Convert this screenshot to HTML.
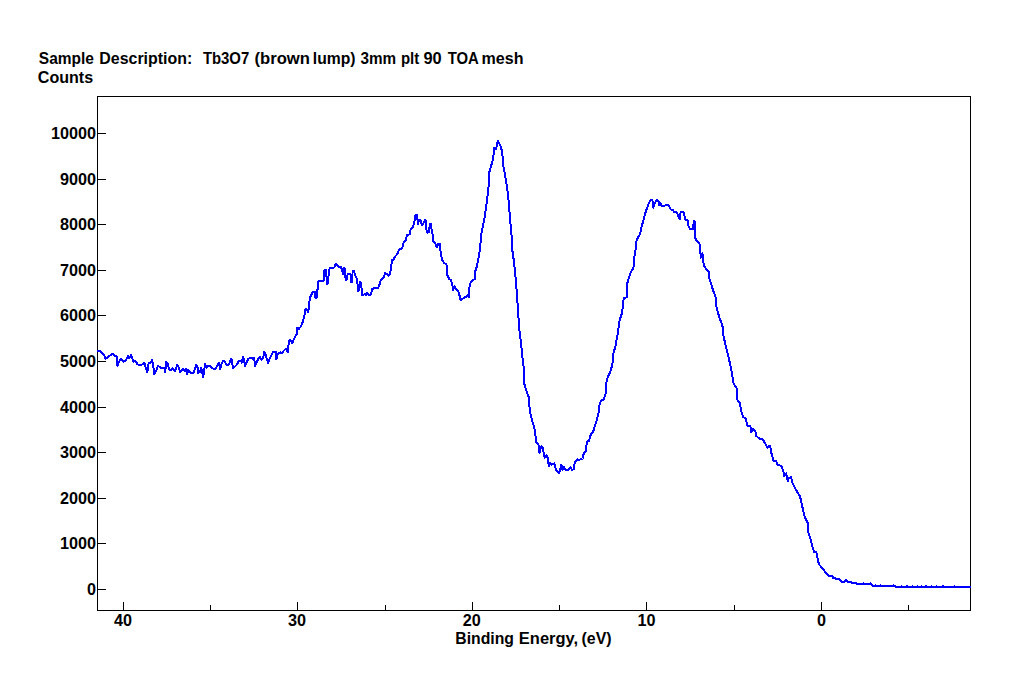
<!DOCTYPE html>
<html lang="en"><head><meta charset="utf-8"><title>Spectrum</title>
<style>html,body{margin:0;padding:0;background:#fff;overflow:hidden}svg{display:block}</style>
</head><body>
<svg width="1033" height="678" viewBox="0 0 1033 678">
<rect width="1033" height="678" fill="#fff"/>
<g shape-rendering="crispEdges" fill="#000">
<rect x="97" y="96" width="874" height="1"/>
<rect x="97" y="610" width="874" height="1"/>
<rect x="97" y="96" width="1" height="515"/>
<rect x="970" y="96" width="1" height="515"/>
<rect x="98" y="133" width="8" height="1"/>
<rect x="98" y="179" width="8" height="1"/>
<rect x="98" y="224" width="8" height="1"/>
<rect x="98" y="270" width="8" height="1"/>
<rect x="98" y="315" width="8" height="1"/>
<rect x="98" y="361" width="8" height="1"/>
<rect x="98" y="407" width="8" height="1"/>
<rect x="98" y="452" width="8" height="1"/>
<rect x="98" y="498" width="8" height="1"/>
<rect x="98" y="543" width="8" height="1"/>
<rect x="98" y="589" width="8" height="1"/>
<rect x="123" y="602" width="1" height="8"/>
<rect x="297" y="602" width="1" height="8"/>
<rect x="472" y="602" width="1" height="8"/>
<rect x="646" y="602" width="1" height="8"/>
<rect x="821" y="602" width="1" height="8"/>
<rect x="210" y="605" width="1" height="5"/>
<rect x="385" y="605" width="1" height="5"/>
<rect x="559" y="605" width="1" height="5"/>
<rect x="734" y="605" width="1" height="5"/>
<rect x="908" y="605" width="1" height="5"/>
</g>
<polyline points="96.8,351.0 100.3,350.7 102.3,353.4 104.2,354.8 105.2,358.7 107.1,357.7 109.5,355.8 112.4,353.6 114.4,355.5 116.5,355.8 117.1,360.2 117.5,366.0 118.7,362.6 120.7,358.7 123.1,361.6 126.0,360.4 127.9,355.8 129.4,358.2 131.0,354.8 132.3,358.2 133.2,361.6 135.7,361.1 137.6,364.5 142.4,364.5 144.4,362.9 145.8,367.9 147.3,372.3 148.0,367.9 148.7,363.1 150.7,362.9 151.9,359.7 153.1,364.0 154.1,374.2 156.0,371.3 157.9,365.8 160.8,367.7 164.2,367.9 165.2,372.3 166.2,361.6 167.4,363.1 169.1,369.4 171.0,370.0 172.4,368.4 174.9,371.3 177.3,364.5 178.4,366.5 180.2,371.8 182.6,368.9 184.5,370.8 186.0,368.9 187.0,374.2 188.4,369.8 190.8,372.8 193.4,372.8 194.8,368.9 196.3,364.8 197.6,367.9 198.2,372.8 199.7,372.3 201.1,367.9 202.1,371.8 203.1,377.1 204.0,371.8 205.0,363.8 206.5,367.9 207.9,365.8 209.8,366.0 212.7,368.4 215.7,368.9 217.6,365.0 219.0,363.1 220.2,368.9 221.5,364.0 223.4,360.7 224.8,361.6 226.3,364.5 229.2,364.5 230.2,360.4 231.4,358.7 232.4,364.0 233.1,367.9 235.5,366.0 237.4,364.0 238.4,361.3 240.8,360.7 241.8,362.6 243.0,356.8 244.0,358.7 245.0,366.0 246.6,362.1 248.1,359.2 250.5,357.7 252.4,358.7 254.1,357.7 255.1,366.0 256.8,362.1 258.2,359.2 259.7,356.8 261.2,359.7 263.1,358.2 264.1,351.9 265.3,353.4 266.5,358.2 268.2,363.1 269.4,359.2 271.3,355.3 273.3,351.7 275.7,351.9 276.4,359.2 277.6,354.4 280.0,352.4 282.0,352.9 284.9,349.5 286.3,349.0 286.8,350.1 287.7,352.3 288.7,343.5 289.7,339.8 290.9,340.5 292.4,343.5 293.8,339.1 295.6,335.8 296.8,334.6 297.1,327.6 299.0,328.7 300.9,326.5 302.7,322.1 304.2,316.9 305.6,308.8 307.1,310.3 308.3,312.5 309.0,305.1 310.0,297.0 311.4,295.0 312.6,291.9 314.7,291.9 315.6,298.4 316.8,297.7 317.1,290.2 318.0,289.6 318.1,281.4 319.5,280.8 323.6,280.6 323.9,275.3 324.6,269.6 325.7,269.9 326.6,277.4 326.9,284.5 328.0,283.5 328.4,277.4 329.0,270.6 329.7,267.9 334.4,267.5 335.8,263.5 337.1,265.2 338.8,267.5 340.8,266.5 342.2,270.2 342.9,274.3 343.9,267.5 345.2,268.6 345.6,280.1 346.9,279.4 347.6,274.0 349.6,273.6 350.7,275.3 350.8,282.4 352.0,281.8 352.7,270.6 354.0,271.3 355.1,275.3 356.4,278.0 357.4,280.8 357.8,291.3 358.8,290.2 359.8,281.8 361.2,282.8 361.6,289.6 361.8,295.3 363.5,295.0 364.6,294.0 365.9,295.0 367.3,292.6 368.6,295.0 370.3,295.1 371.3,293.6 372.0,289.2 373.4,288.5 374.7,287.9 378.1,287.7 379.1,286.2 379.8,283.5 381.2,279.3 383.1,278.6 385.3,272.8 387.1,274.3 388.3,275.8 390.0,274.3 391.2,266.9 392.0,260.3 393.4,260.3 394.9,256.6 397.1,254.4 399.2,249.7 401.6,248.4 403.0,246.3 403.6,242.6 405.0,241.6 406.3,238.9 406.7,234.5 408.4,234.8 410.1,233.8 410.6,229.7 412.1,228.4 413.1,226.7 414.1,223.3 414.8,219.6 415.5,214.8 416.8,215.2 417.5,219.6 417.9,224.3 418.9,220.2 419.9,219.6 421.3,221.3 421.6,225.0 422.9,224.7 424.0,221.9 425.0,219.6 426.0,220.6 426.2,229.4 427.7,232.8 428.7,232.1 429.4,228.4 429.9,223.6 431.1,224.3 431.6,230.1 432.4,230.8 432.6,235.8 433.2,236.5 433.5,241.6 435.1,242.9 436.8,247.0 438.5,243.6 440.2,244.3 440.4,249.7 440.6,252.2 442.1,259.6 444.0,262.8 446.5,264.7 447.3,275.1 449.0,278.7 451.0,280.2 452.4,285.4 453.2,289.8 454.4,286.1 455.8,289.1 458.3,291.3 459.8,296.4 460.5,300.1 462.8,298.7 465.0,297.2 466.4,297.2 467.6,295.0 468.7,297.2 469.7,284.6 471.6,281.0 473.8,279.5 474.9,279.1 475.3,271.1 476.9,266.5 478.2,259.2 479.2,254.5 480.2,246.5 481.1,237.3 481.5,232.7 484.7,216.7 486.9,200.8 488.8,184.9 489.2,172.5 491.3,165.4 493.1,159.2 494.3,147.7 496.1,149.1 497.8,140.6 500.1,145.0 502.4,152.1 502.8,163.6 504.6,172.5 506.7,184.9 508.1,195.5 509.0,206.1 509.9,216.7 510.9,229.1 512.0,239.7 512.3,250.0 513.9,261.2 515.7,278.9 516.9,293.1 518.0,310.8 519.2,328.5 521.0,342.7 522.7,360.0 523.1,362.1 523.9,369.2 523.9,382.4 526.2,390.4 528.9,397.5 529.8,411.6 531.9,419.6 534.2,427.6 535.4,434.6 536.0,442.6 538.3,443.5 539.5,453.2 541.3,446.2 542.5,447.0 543.9,454.1 544.8,457.7 546.6,455.0 547.8,458.5 548.9,466.5 550.1,462.6 551.9,464.7 554.2,463.3 555.4,467.4 556.3,470.9 559.0,472.7 560.2,470.0 561.3,464.7 562.5,469.7 563.8,466.9 566.1,470.0 568.4,469.7 570.5,467.4 572.3,470.0 573.7,469.2 574.9,462.1 577.6,459.4 579.3,459.8 582.5,458.5 583.8,453.2 586.1,450.6 586.8,441.7 589.1,440.8 590.8,434.6 593.1,432.0 594.9,425.8 596.7,420.5 598.5,413.4 599.2,406.3 600.9,401.0 603.8,399.2 605.5,393.9 606.2,383.3 607.7,377.1 610.3,371.8 612.1,365.6 613.0,360.3 613.0,355.0 615.6,345.5 617.6,334.2 619.6,320.4 622.1,312.9 623.8,297.8 626.8,297.3 627.1,284.0 630.0,274.1 632.7,268.9 634.1,265.2 634.4,257.1 635.6,249.0 636.2,241.6 638.1,237.2 640.3,233.5 641.5,226.9 643.0,221.7 644.5,215.8 645.9,211.4 647.7,206.2 649.2,202.5 650.9,200.0 652.4,200.0 653.3,207.7 654.8,203.3 656.8,200.0 658.8,201.8 659.5,205.5 660.7,203.3 662.2,206.2 663.9,206.2 666.1,204.7 668.1,204.7 669.5,207.0 670.6,209.5 673.1,209.9 674.0,212.4 676.5,212.1 677.9,215.1 679.9,219.5 680.6,212.4 683.4,212.1 684.4,215.1 684.9,219.5 687.5,220.2 688.3,225.4 689.7,228.6 692.7,229.1 693.4,224.7 694.2,221.0 694.9,221.7 695.2,237.9 697.1,241.6 699.3,242.8 700.1,248.3 700.8,257.8 702.3,253.4 703.0,255.6 703.7,265.2 706.0,268.9 708.9,271.9 709.4,278.5 711.1,283.7 712.9,290.0 715.9,297.8 716.6,307.9 719.1,316.6 722.4,325.4 723.4,335.4 725.9,346.7 729.2,360.0 731.8,372.1 733.6,383.6 736.6,388.1 737.1,399.6 739.8,403.1 741.5,411.9 743.3,417.3 745.4,418.1 747.7,426.1 750.4,426.1 751.3,432.3 753.1,428.8 755.4,431.4 756.1,435.8 759.2,438.5 762.4,438.8 764.9,442.9 767.2,447.7 769.0,445.6 770.2,446.5 771.3,452.7 773.4,460.6 776.1,461.2 777.8,465.0 781.4,465.9 783.6,472.4 784.1,475.9 786.2,473.3 787.7,481.2 788.9,477.7 791.2,477.3 792.4,483.0 795.1,488.3 797.7,492.7 800.0,496.3 801.8,504.2 803.1,510.4 804.8,517.5 807.5,522.3 808.4,532.6 810.7,539.6 812.4,546.7 814.2,552.0 816.3,552.4 817.7,559.1 819.0,564.4 822.0,567.8 825.1,571.7 828.6,575.6 830.0,575.9 832.5,575.9 832.8,578.1 835.6,578.1 836.3,579.1 839.5,579.1 841.5,581.9 844.0,581.9 846.1,580.1 847.5,581.7 851.1,581.9 851.8,582.9 856.0,583.1 857.0,584.0 870.0,584.0 870.7,583.1 872.5,585.9 895.3,585.9 896.3,587.0 970.5,587.0" fill="none" stroke="#0000ff" stroke-width="2" stroke-linejoin="round" stroke-linecap="butt" shape-rendering="crispEdges"/>
<g shape-rendering="crispEdges" fill="#0000ff"><rect x="863" y="582" width="1" height="1"/><rect x="875" y="584" width="1" height="1"/><rect x="880" y="584" width="1" height="1"/><rect x="893" y="584" width="1" height="1"/><rect x="901" y="585" width="1" height="1"/><rect x="906" y="585" width="2" height="1"/><rect x="912" y="585" width="1" height="1"/><rect x="917" y="585" width="1" height="1"/><rect x="921" y="585" width="1" height="1"/><rect x="925" y="585" width="2" height="1"/><rect x="931" y="585" width="1" height="1"/><rect x="936" y="585" width="1" height="1"/><rect x="942" y="585" width="2" height="1"/><rect x="954" y="585" width="1" height="1"/></g>
<g font-family="'Liberation Sans', Arial, sans-serif" font-weight="bold" font-size="16px" fill="#000">
<text x="38.83" y="64" textLength="55.09" lengthAdjust="spacingAndGlyphs">Sample</text>
<text x="99.3" y="64" textLength="92.93" lengthAdjust="spacingAndGlyphs">Description:</text>
<text x="202.9" y="64" textLength="46.34" lengthAdjust="spacingAndGlyphs">Tb3O7</text>
<text x="254.56" y="64" textLength="55.42" lengthAdjust="spacingAndGlyphs">(brown</text>
<text x="312.82" y="64" textLength="42.72" lengthAdjust="spacingAndGlyphs">lump)</text>
<text x="360.4" y="64" textLength="35.64" lengthAdjust="spacingAndGlyphs">3mm</text>
<text x="400.96" y="64" textLength="18.31" lengthAdjust="spacingAndGlyphs">plt</text>
<text x="423.48" y="64" textLength="18.24" lengthAdjust="spacingAndGlyphs">90</text>
<text x="447.7" y="64" textLength="31.05" lengthAdjust="spacingAndGlyphs">TOA</text>
<text x="481.6" y="64" textLength="41.9" lengthAdjust="spacingAndGlyphs">mesh</text>
<text x="37.8" y="83" textLength="55.31" lengthAdjust="spacingAndGlyphs">Counts</text>
<text x="95.9" y="139.2" text-anchor="end" textLength="45" lengthAdjust="spacingAndGlyphs">10000</text>
<text x="95.9" y="185.2" text-anchor="end" textLength="36" lengthAdjust="spacingAndGlyphs">9000</text>
<text x="95.9" y="230.2" text-anchor="end" textLength="36" lengthAdjust="spacingAndGlyphs">8000</text>
<text x="95.9" y="276.2" text-anchor="end" textLength="36" lengthAdjust="spacingAndGlyphs">7000</text>
<text x="95.9" y="321.2" text-anchor="end" textLength="36" lengthAdjust="spacingAndGlyphs">6000</text>
<text x="95.9" y="367.2" text-anchor="end" textLength="36" lengthAdjust="spacingAndGlyphs">5000</text>
<text x="95.9" y="413.2" text-anchor="end" textLength="36" lengthAdjust="spacingAndGlyphs">4000</text>
<text x="95.9" y="458.2" text-anchor="end" textLength="36" lengthAdjust="spacingAndGlyphs">3000</text>
<text x="95.9" y="504.2" text-anchor="end" textLength="36" lengthAdjust="spacingAndGlyphs">2000</text>
<text x="95.9" y="549.2" text-anchor="end" textLength="36" lengthAdjust="spacingAndGlyphs">1000</text>
<text x="95.9" y="595.2" text-anchor="end" textLength="9" lengthAdjust="spacingAndGlyphs">0</text>
<text x="122.9" y="626" text-anchor="middle" textLength="18" lengthAdjust="spacingAndGlyphs">40</text>
<text x="297.0" y="626" text-anchor="middle" textLength="18" lengthAdjust="spacingAndGlyphs">30</text>
<text x="471.8" y="626" text-anchor="middle" textLength="18" lengthAdjust="spacingAndGlyphs">20</text>
<text x="646.4" y="626" text-anchor="middle" textLength="18" lengthAdjust="spacingAndGlyphs">10</text>
<text x="821.4" y="626" text-anchor="middle" textLength="9" lengthAdjust="spacingAndGlyphs">0</text>
<text x="455.26" y="643.5" textLength="58.67" lengthAdjust="spacingAndGlyphs">Binding</text>
<text x="518.87" y="643.5" textLength="59.25" lengthAdjust="spacingAndGlyphs">Energy,</text>
<text x="581.51" y="643.5" textLength="30.03" lengthAdjust="spacingAndGlyphs">(eV)</text>
</g></svg>
</body></html>
